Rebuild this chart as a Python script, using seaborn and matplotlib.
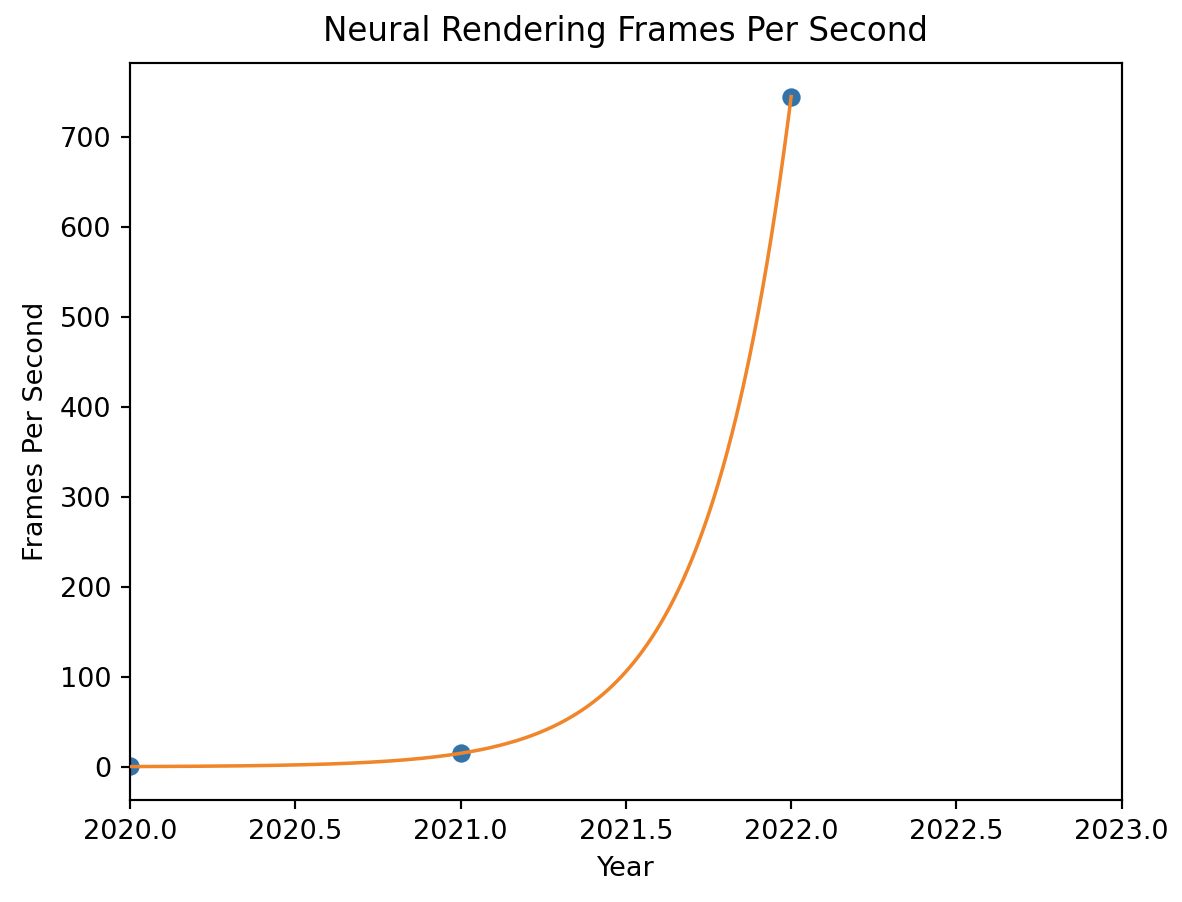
import numpy as np
import pandas as pd
import matplotlib
matplotlib.use("Agg")
import matplotlib.pyplot as plt
import seaborn as sns

years = [2020, 2021, 2022]
fps = [1.0, 15.0, 745.0]

title = "Neural Rendering Frames Per Second"
xlabel = "Year"
ylabel = "Frames Per Second"

# exponential fit y = a*exp(b*(x-2020)) by least squares (Gauss-Newton)
t = np.array(years, float) - years[0]
y = np.array(fps, float)
b0, la0 = np.polyfit(t, np.log(y), 1, w=np.sqrt(y))
a, b = np.exp(la0), b0
for _ in range(100):
    f = a * np.exp(b * t)
    J = np.column_stack([np.exp(b * t), a * t * np.exp(b * t)])
    r = y - f
    step, *_ = np.linalg.lstsq(J, r, rcond=None)
    a += step[0]
    b += step[1]
xs = np.linspace(years[0], years[-1], 300)
fit_df = pd.DataFrame({"x": xs, "y": a * np.exp(b * (xs - years[0]))})
pts = pd.DataFrame({"x": years, "y": fps})

DPI = 195
plt.rcParams['font.family'] = ['DejaVu Sans']
fig, ax = plt.subplots(figsize=(1182 / DPI, 902 / DPI), dpi=DPI)
fig.subplots_adjust(left=0.110, right=0.949, top=0.930, bottom=0.113)

sns.scatterplot(data=pts, x="x", y="y", ax=ax, color="#3473aa", s=46, linewidth=0, zorder=2)
sns.lineplot(data=fit_df, x="x", y="y", ax=ax, color="#f0852a", linewidth=1.3, zorder=3)

ax.set_xlim(2020, 2023)
ax.set_xticks(np.arange(2020, 2023.01, 0.5))
ax.set_title(title, fontsize=12, pad=8)
ax.set_xlabel(xlabel)
ax.set_ylabel(ylabel)

fig.savefig("out.png", dpi=DPI)
